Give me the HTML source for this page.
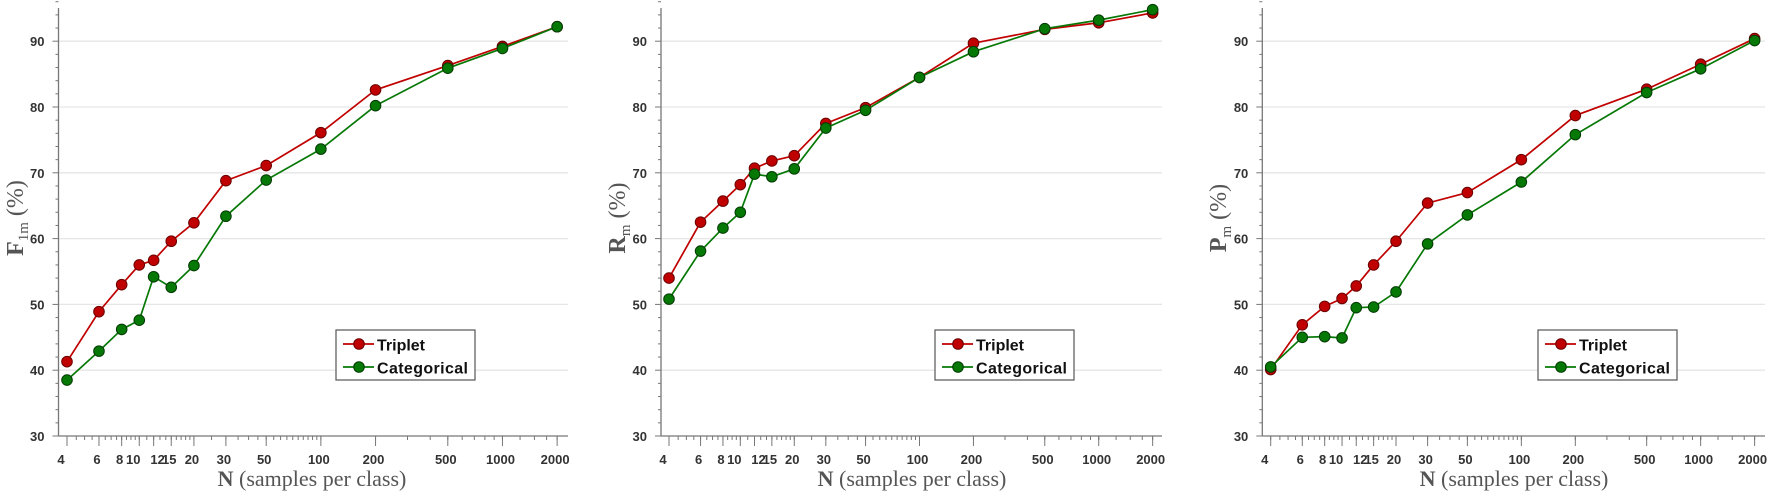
<!DOCTYPE html>
<html><head><meta charset="utf-8"><style>
html,body{margin:0;padding:0;background:#fff}
svg{display:block}
</style></head><body>
<svg id="s" width="1772" height="493" xmlns="http://www.w3.org/2000/svg" font-family="Liberation Sans, sans-serif"></svg>
<script>
const N=[4,6,8,10,12,15,20,30,50,100,200,500,1000,2000];
const panels=[
 {x4:67,dec:181.6,axL:58.5,axR:568,leg:336,ylab:15,xt:312,sym:"F",sub:"1m",
  t:[41.3,48.9,53,56,56.7,59.6,62.4,68.8,71.1,76.1,82.6,86.3,89.2,92.2],
  c:[38.5,42.9,46.2,47.6,54.2,52.6,55.9,63.4,68.9,73.6,80.2,85.9,88.9,92.2]},
 {x4:669,dec:179.2,axL:661,axR:1162,leg:935,ylab:617,xt:912,sym:"R",sub:"m",
  t:[54.0,62.5,65.7,68.2,70.7,71.8,72.6,77.5,79.9,84.5,89.7,91.8,92.8,94.3],
  c:[50.8,58.1,61.6,64.0,69.8,69.4,70.6,76.8,79.5,84.5,88.4,91.9,93.2,94.8]},
 {x4:1270.7,dec:179.3,axL:1262.3,axR:1765,leg:1538,ylab:1218,xt:1514,sym:"P",sub:"m",
  t:[40.1,46.9,49.7,50.9,52.8,56.0,59.6,65.4,67.0,72.0,78.7,82.7,86.5,90.4],
  c:[40.5,45.0,45.1,44.9,49.5,49.6,51.9,59.2,63.6,68.6,75.8,82.2,85.8,90.1]}
];
const Y=v=>436-(v-30)*6.58;
let h="";
for(const p of panels){
 const X=n=>p.x4+p.dec*Math.log10(n/4);
 for(let v=40;v<=90;v+=10) h+=`<line x1="${p.axL}" x2="${p.axR}" y1="${Y(v)}" y2="${Y(v)}" stroke="#e6e6e6" stroke-width="1.3"/>`;
 h+=`<line x1="${p.axL}" x2="${p.axL}" y1="8" y2="436" stroke="#777" stroke-width="1.3"/>`;
 h+=`<line x1="${p.axL}" x2="${p.axR}" y1="436" y2="436" stroke="#777" stroke-width="1.3"/>`;
 for(let v=30;v<=96;v+=2){const maj=v%10==0;
  h+=`<line x1="${p.axL-(maj?6:3)}" x2="${p.axL}" y1="${Y(v)}" y2="${Y(v)}" stroke="#777" stroke-width="1"/>`;
  if(maj)h+=`<text x="${p.axL-14}" y="${Y(v)+5}" text-anchor="end" font-size="13" font-weight="bold" fill="#333">${v}</text>`;}
 const mins=[];
 for(let n=4;n<10;n+=0.5)mins.push(n);for(let n=10;n<20;n+=1)mins.push(n);for(let n=20;n<100;n+=5)mins.push(n);
 for(let n=100;n<=1000;n+=100)mins.push(n);for(let n=1000;n<=2000;n+=250)mins.push(n);
 for(const n of mins)h+=`<line x1="${X(n)}" x2="${X(n)}" y1="436" y2="440" stroke="#777" stroke-width="1"/>`;
 for(const n of N)h+=`<line x1="${X(n)}" x2="${X(n)}" y1="436" y2="446" stroke="#777" stroke-width="1"/>`;
 N.forEach(n=>{let dx=-2;if(n==10)dx=-6;if(n==12)dx=4;if(n==4)dx=-6;
  h+=`<text x="${X(n)+dx}" y="464" text-anchor="middle" font-size="13" font-weight="bold" fill="#333">${n}</text>`;});
 const ser=(d,col,dk)=>{let pts=N.map((n,i)=>`${X(n)},${Y(d[i])}`).join(" ");
  let s=`<polyline points="${pts}" fill="none" stroke="${col}" stroke-width="1.7"/>`;
  N.forEach((n,i)=>s+=`<circle cx="${X(n)}" cy="${Y(d[i])}" r="5.3" fill="${col}" stroke="${dk}" stroke-width="1"/>`);return s;};
 h+=ser(p.t,"#c00000","#6a0000");
 h+=ser(p.c,"#067806","#033a03");
 const L=p.leg;
 h+=`<rect x="${L}" y="330" width="139" height="50" fill="#fff" stroke="#555" stroke-width="1.2"/>`;
 h+=`<line x1="${L+7}" x2="${L+38}" y1="344" y2="344" stroke="#c00000" stroke-width="1.7"/><circle cx="${L+23}" cy="344" r="5.3" fill="#c00000" stroke="#6a0000"/>`;
 h+=`<line x1="${L+7}" x2="${L+38}" y1="367" y2="367" stroke="#067806" stroke-width="1.7"/><circle cx="${L+23}" cy="367" r="5.3" fill="#067806" stroke="#033a03"/>`;
 h+=`<text x="${L+41}" y="350.5" font-size="16" font-weight="bold" fill="#111">Triplet</text>`;
 h+=`<text x="${L+41}" y="373.5" font-size="16" font-weight="bold" fill="#111" textLength="91">Categorical</text>`;
 h+=`<text transform="translate(${p.ylab+8},218) rotate(-90)" text-anchor="middle" font-family="Liberation Serif, serif" font-size="24" fill="#555"><tspan font-weight="bold">${p.sym}</tspan><tspan font-size="15" dy="5">${p.sub}</tspan><tspan dy="-5"> (%)</tspan></text>`;
 h+=`<text x="${p.xt}" y="486" text-anchor="middle" font-family="Liberation Serif, serif" font-size="22" fill="#555"><tspan font-weight="bold">N</tspan> (samples per class)</text>`;
}
document.getElementById("s").innerHTML=h;
</script>
</body></html>
